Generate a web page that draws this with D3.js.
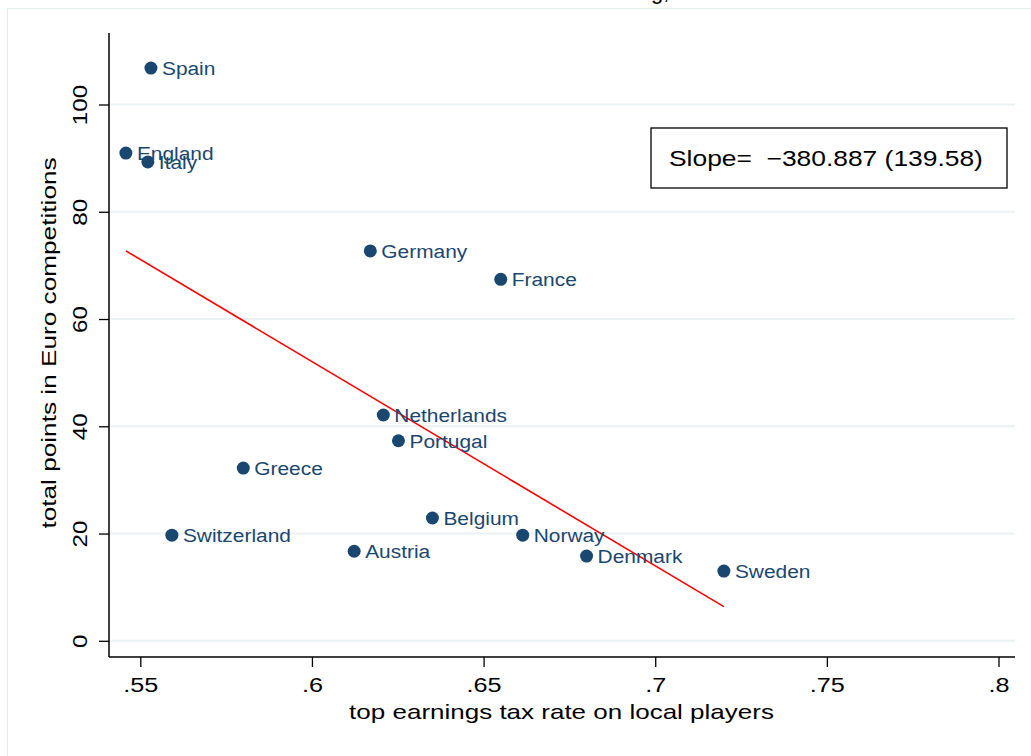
<!DOCTYPE html>
<html>
<head>
<meta charset="utf-8">
<script src="https://cdn.jsdelivr.net/npm/d3@7"></script>
<style>
  html, body { margin: 0; padding: 0; background: #fff; }
  svg { display: block; font-family: "Liberation Sans", Arial, Helvetica, sans-serif; }
  text { white-space: pre; }
</style>
</head>
<body>
<svg id="chart" width="1031" height="756"></svg>
<script>
// ---- data ----
const countries = ["Spain","England","Italy","Germany","France","Netherlands","Portugal","Greece","Switzerland","Belgium","Austria","Norway","Denmark","Sweden"];
const taxRate   = [0.5531, 0.5458, 0.5522, 0.6170, 0.6550, 0.6208, 0.6252, 0.5800, 0.5592, 0.6351, 0.6123, 0.6614, 0.6800, 0.7200];
const points    = [106.8, 90.95, 89.3, 72.7, 67.4, 42.1, 37.3, 32.2, 19.7, 22.9, 16.7, 19.7, 15.8, 13.0];
const xTicks = [0.55, 0.6, 0.65, 0.7, 0.75, 0.8];
const xTickLabels = [".55", ".6", ".65", ".7", ".75", ".8"];
const yTicks = [0, 20, 40, 60, 80, 100];
const fitSlope = -380.887;
const fitSE = 139.58;
const fitIntercept = 280.6;

const svg = d3.select("#chart");
const navy = "#1a476f";

const x = d3.scaleLinear().domain([0.55, 0.8]).range([140.3, 998.5]);
const y = d3.scaleLinear().domain([0, 100]).range([640.8, 104.5]);
const xLeft = 109, xRight = 1015, yTop = 33, yBottom = 657;

// outer light border
svg.append("rect").attr("x", 7.5).attr("y", 8.5).attr("width", 1100).attr("height", 900)
  .attr("fill", "none").attr("stroke", "#e6eef0").attr("stroke-width", 1.2);

// cut-off title fragment (title lies above the visible area)
svg.append("text").attr("x", 654).attr("y", -1).attr("text-anchor", "middle")
  .attr("font-size", 22).attr("fill", "#000").text("ng,");

// gridlines
svg.append("g").selectAll("line").data(yTicks).join("line")
  .attr("x1", xLeft).attr("x2", xRight)
  .attr("y1", d => y(d)).attr("y2", d => y(d))
  .attr("stroke", "#eaf2f3").attr("stroke-width", 2);

// y axis
const yAxis = svg.append("g").attr("transform", `translate(${xLeft},0)`)
  .call(d3.axisLeft(y).tickValues(yTicks).tickSize(10).tickSizeOuter(0).tickFormat(d3.format("d")));
yAxis.select(".domain").remove();
yAxis.append("line").attr("x1", 0).attr("x2", 0).attr("y1", yTop).attr("y2", yBottom)
  .attr("stroke", "#000").attr("stroke-width", 1.5);
yAxis.selectAll(".tick line").attr("stroke", "#000").attr("stroke-width", 1.3);
yAxis.selectAll(".tick text")
  .attr("font-size", 21).attr("fill", "#000")
  .attr("font-family", "Liberation Sans, Arial, sans-serif")
  .attr("text-anchor", "middle")
  .attr("x", 0).attr("y", 0).attr("dy", 0)
  .attr("transform", "translate(-22,0) rotate(-90) scale(1.15,1)");

// x axis
const xAxis = svg.append("g").attr("transform", `translate(0,${yBottom})`)
  .call(d3.axisBottom(x).tickValues(xTicks).tickSize(10).tickSizeOuter(0)
    .tickFormat((d, i) => xTickLabels[i]));
xAxis.select(".domain").remove();
xAxis.append("line").attr("x1", xLeft).attr("x2", xRight).attr("y1", 0).attr("y2", 0)
  .attr("stroke", "#000").attr("stroke-width", 1.5);
xAxis.selectAll(".tick line").attr("stroke", "#000").attr("stroke-width", 1.3);
xAxis.selectAll(".tick text")
  .attr("font-size", 21).attr("fill", "#000")
  .attr("font-family", "Liberation Sans, Arial, sans-serif")
  .attr("y", 0).attr("dy", 0)
  .attr("transform", "translate(0,35) scale(1.2,1)");

// axis titles
svg.append("text").attr("transform", "translate(561.5,719) scale(1.3,1)").attr("text-anchor", "middle")
  .attr("font-size", 20).attr("fill", "#000").text("top earnings tax rate on local players");
svg.append("text").attr("transform", "translate(56,343) rotate(-90) scale(1.31,1)").attr("text-anchor", "middle")
  .attr("font-size", 20).attr("fill", "#000").text("total points in Euro competitions");

// fit line
const xMin = d3.min(taxRate), xMax = d3.max(taxRate);
svg.append("line")
  .attr("x1", x(xMin)).attr("y1", y(fitIntercept + fitSlope * xMin))
  .attr("x2", x(xMax)).attr("y2", y(fitIntercept + fitSlope * xMax))
  .attr("stroke", "#ff0000").attr("stroke-width", 1.6);

// points
const data = countries.map((c, i) => ({c, xv: taxRate[i], yv: points[i]}));
const g = svg.append("g");
g.selectAll("circle").data(data).join("circle")
  .attr("cx", d => x(d.xv)).attr("cy", d => y(d.yv)).attr("r", 6.5)
  .attr("fill", navy);
g.selectAll("text").data(data).join("text")
  .attr("transform", d => `translate(${x(d.xv) + 11},${y(d.yv)}) scale(1.1,1)`)
  .attr("dy", "0.36em")
  .attr("font-size", 19).attr("fill", navy).text(d => d.c);

// slope box
svg.append("rect").attr("x", 651).attr("y", 128).attr("width", 356).attr("height", 60)
  .attr("fill", "#fff").attr("stroke", "#000").attr("stroke-width", 1.3);
svg.append("text").attr("transform", "translate(669,166) scale(1.2,1)").attr("font-size", 22).attr("fill", "#000")
  .text(`Slope=  \u2212${Math.abs(fitSlope).toFixed(3)} (${fitSE.toFixed(2)})`);
</script>
</body>
</html>
